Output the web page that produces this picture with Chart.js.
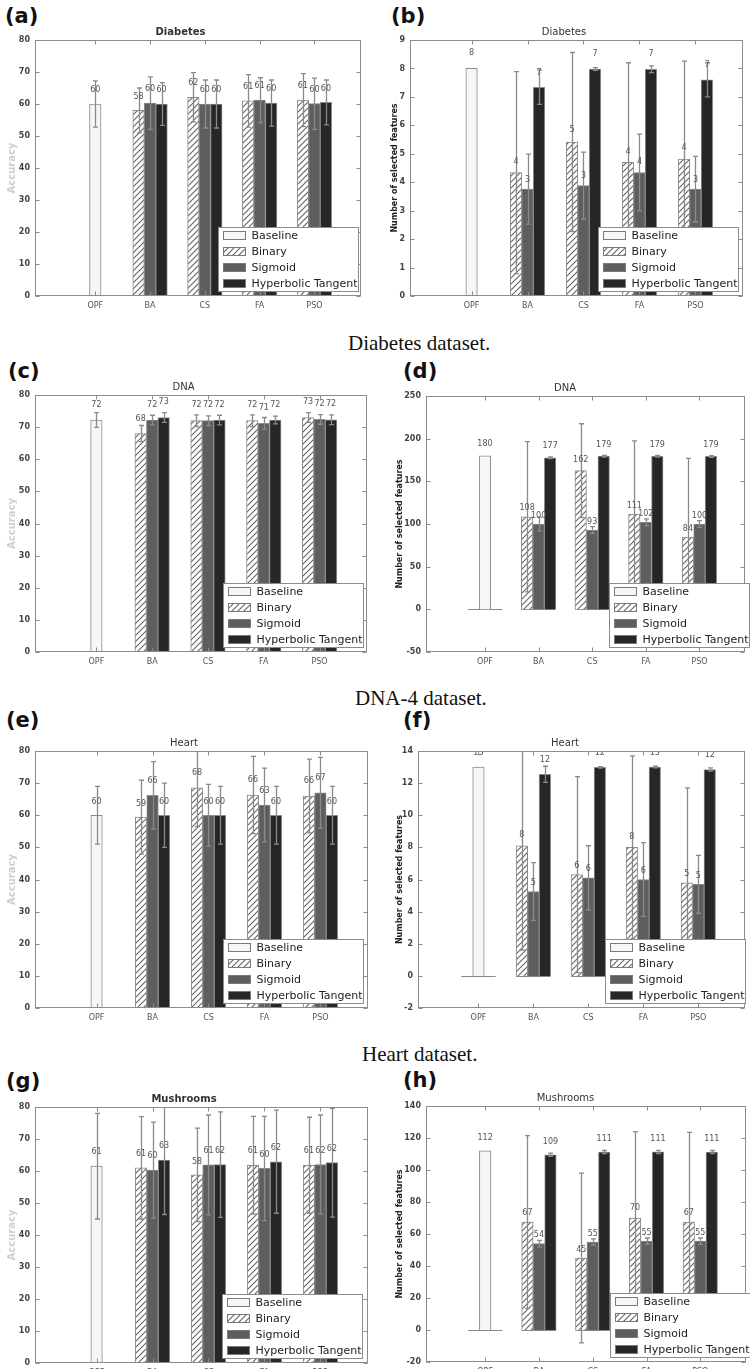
<!DOCTYPE html>
<html>
<head>
<meta charset="utf-8">
<script src="https://cdn.jsdelivr.net/npm/chart.js@4.4.1/dist/chart.umd.min.js"></script>
<style>
html,body{margin:0;padding:0;background:#fff;}
body{width:750px;height:1369px;overflow:hidden;position:relative;}
.panel{position:absolute;}
.plabel{position:absolute;font-family:"DejaVu Sans",sans-serif;font-weight:bold;font-size:21px;line-height:21px;color:#111;white-space:nowrap;}
.cap{position:absolute;font-family:"Liberation Serif",serif;font-size:21px;line-height:22px;color:#111;white-space:nowrap;}
</style>
</head>
<body>
<div class="plabel" style="left:5px;top:6px;">(a)</div>
<div class="plabel" style="left:391px;top:6px;">(b)</div>
<div class="cap" style="left:348px;top:332px;">Diabetes dataset.</div>
<div class="plabel" style="left:8px;top:361px;">(c)</div>
<div class="plabel" style="left:403px;top:361px;">(d)</div>
<div class="cap" style="left:355px;top:687px;">DNA-4 dataset.</div>
<div class="plabel" style="left:6px;top:710px;">(e)</div>
<div class="plabel" style="left:403px;top:710px;">(f)</div>
<div class="cap" style="left:362px;top:1043px;">Heart dataset.</div>
<div class="plabel" style="left:6px;top:1071px;">(g)</div>
<div class="plabel" style="left:403px;top:1070px;">(h)</div>
<script>
const categories = ['OPF', 'BA', 'CS', 'FA', 'PSO'];
const seriesNames = ['Baseline', 'Binary', 'Sigmoid', 'Hyperbolic Tangent'];
const N = null;

// y tick labels
const accTicks = [0, 10, 20, 30, 40, 50, 60, 70, 80];
const diabFeatTicks = [0, 1, 2, 3, 4, 5, 6, 7, 8, 9];
const dnaFeatTicks = [-50, 0, 50, 100, 150, 200, 250];
const heartFeatTicks = [-2, 0, 2, 4, 6, 8, 10, 12, 14];
const mushFeatTicks = [-20, 0, 20, 40, 60, 80, 100, 120, 140];

// (a) Diabetes - accuracy
const diabAccBaseline = [60.0, N, N, N, N];
const diabAccBinary   = [N, 58.0, 62.1, 61.0, 61.2];
const diabAccSigmoid  = [N, 60.3, 60.0, 61.2, 60.1];
const diabAccTanh     = [N, 60.0, 60.0, 60.3, 60.5];
const diabAccBaselineErr = [7.2, N, N, N, N];
const diabAccBinaryErr   = [N, 7.0, 7.7, 8.2, 8.3];
const diabAccSigmoidErr  = [N, 8.2, 7.5, 7.0, 8.0];
const diabAccTanhErr     = [N, 6.7, 7.5, 7.2, 7.0];

// (b) Diabetes - number of selected features
const diabFeatBaseline = [8.0, N, N, N, N];
const diabFeatBinary   = [N, 4.34, 5.41, 4.70, 4.81];
const diabFeatSigmoid  = [N, 3.76, 3.88, 4.34, 3.76];
const diabFeatTanh     = [N, 7.34, 7.98, 7.97, 7.60];
const diabFeatBaselineErr = [0, N, N, N, N];
const diabFeatBinaryErr   = [N, 3.55, 3.15, 3.5, 3.45];
const diabFeatSigmoidErr  = [N, 1.23, 1.18, 1.35, 1.15];
const diabFeatTanhErr     = [N, 0.6, 0.05, 0.12, 0.6];

// (c) DNA - accuracy
const dnaAccBaseline = [72.2, N, N, N, N];
const dnaAccBinary   = [N, 68.0, 72.0, 72.0, 73.0];
const dnaAccSigmoid  = [N, 72.2, 72.0, 71.2, 72.4];
const dnaAccTanh     = [N, 73.0, 72.2, 72.2, 72.3];
const dnaAccBaselineErr = [2.3, N, N, N, N];
const dnaAccBinaryErr   = [N, 2.5, 1.8, 1.8, 1.5];
const dnaAccSigmoidErr  = [N, 1.5, 1.5, 1.8, 1.5];
const dnaAccTanhErr     = [N, 1.5, 1.5, 1.2, 1.5];

// (d) DNA - number of selected features
const dnaFeatBaseline = [180, N, N, N, N];
const dnaFeatBinary   = [N, 108.5, 162.5, 111.5, 84.8];
const dnaFeatSigmoid  = [N, 100, 93, 102, 100];
const dnaFeatTanh     = [N, 177.5, 179.5, 179.3, 179.2];
const dnaFeatBaselineErr = [0, N, N, N, N];
const dnaFeatBinaryErr   = [N, 88, 55, 86, 92];
const dnaFeatSigmoidErr  = [N, 8, 4, 4, 4];
const dnaFeatTanhErr     = [N, 1, 1, 1, 1];

// (e) Heart - accuracy
const heartAccBaseline = [60.0, N, N, N, N];
const heartAccBinary   = [N, 59.4, 68.5, 66.3, 66.0];
const heartAccSigmoid  = [N, 66.2, 60.0, 63.2, 67.0];
const heartAccTanh     = [N, 60.0, 60.0, 60.0, 60.0];
const heartAccBaselineErr = [9.0, N, N, N, N];
const heartAccBinaryErr   = [N, 11.5, 12, 12, 11.5];
const heartAccSigmoidErr  = [N, 10.5, 9.6, 11.5, 11];
const heartAccTanhErr     = [N, 10, 9, 9, 9];

// (f) Heart - number of selected features
const heartFeatBaseline = [13.0, N, N, N, N];
const heartFeatBinary   = [N, 8.1, 6.3, 8.0, 5.8];
const heartFeatSigmoid  = [N, 5.25, 6.1, 6.0, 5.7];
const heartFeatTanh     = [N, 12.55, 12.98, 13.0, 12.85];
const heartFeatBaselineErr = [0, N, N, N, N];
const heartFeatBinaryErr   = [N, 6.5, 6.1, 5.7, 5.9];
const heartFeatSigmoidErr  = [N, 1.8, 2.0, 2.3, 1.8];
const heartFeatTanhErr     = [N, 0.5, 0.05, 0.05, 0.1];

// (g) Mushrooms - accuracy
const mushAccBaseline = [61.5, N, N, N, N];
const mushAccBinary   = [N, 61.0, 58.8, 61.8, 61.8];
const mushAccSigmoid  = [N, 60.3, 61.9, 60.8, 62.0];
const mushAccTanh     = [N, 63.4, 62.0, 62.9, 62.6];
const mushAccBaselineErr = [16.5, N, N, N, N];
const mushAccBinaryErr   = [N, 16, 14.6, 15.3, 15];
const mushAccSigmoidErr  = [N, 15, 15.6, 16.3, 15.5];
const mushAccTanhErr     = [N, 17, 16.5, 16.1, 17];

// (h) Mushrooms - number of selected features
const mushFeatBaseline = [112.0, N, N, N, N];
const mushFeatBinary   = [N, 67.5, 45.0, 70.0, 67.5];
const mushFeatSigmoid  = [N, 54.0, 55.0, 55.5, 55.5];
const mushFeatTanh     = [N, 109.5, 111.2, 111.3, 111.2];
const mushFeatBaselineErr = [0, N, N, N, N];
const mushFeatBinaryErr   = [N, 54, 53, 54, 56];
const mushFeatSigmoidErr  = [N, 2, 2, 2, 2];
const mushFeatTanhErr     = [N, 1, 1, 1, 1];

const FONT = 'DejaVu Sans';
const FEAT_TITLE = 'Number of selected features';

function hatchPattern() {
  const c = document.createElement('canvas');
  c.width = 6; c.height = 6;
  const g = c.getContext('2d');
  g.fillStyle = '#ffffff'; g.fillRect(0, 0, 6, 6);
  g.strokeStyle = '#6a6a6a'; g.lineWidth = 1.2;
  g.beginPath();
  g.moveTo(-1, 7); g.lineTo(7, -1);
  g.moveTo(-4, 4); g.lineTo(4, -4);
  g.moveTo(2, 10); g.lineTo(10, 2);
  g.stroke();
  return g.createPattern(c, 'repeat');
}
const HATCH = hatchPattern();
const FILLS = ['#f6f6f6', HATCH, '#5e5e5e', '#262626'];

const decorPlugin = {
  id: 'decor',
  beforeDatasetsDraw(chart) {
    const {ctx, chartArea: a, scales: {x, y}} = chart;
    const p = chart.options.plugins.decor;
    const y0 = y.getPixelForValue(0);
    if (y0 < a.bottom - 1) {
      ctx.save();
      ctx.strokeStyle = '#8a8a8a'; ctx.lineWidth = 1;
      categories.forEach((c, i) => {
        const cx = x.getPixelForValue(i);
        ctx.beginPath();
        ctx.moveTo(cx - 1.5 * p.bw, Math.round(y0) + 0.5);
        ctx.lineTo(cx + 1.5 * p.bw, Math.round(y0) + 0.5);
        ctx.stroke();
      });
      ctx.restore();
    }
  },
  afterDatasetsDraw(chart) {
    const {ctx, chartArea: a, scales: {x, y}} = chart;
    const p = chart.options.plugins.decor;
    ctx.save();
    ctx.beginPath(); ctx.rect(a.left, a.top, a.right - a.left, a.bottom - a.top); ctx.clip();
    // error bars
    chart.data.datasets.forEach((ds, di) => {
      const meta = chart.getDatasetMeta(di);
      meta.data.forEach((el, i) => {
        const v = ds.data[i], e = ds.errors[i];
        if (v == null || e == null || e <= 0) return;
        const cx = Math.round(el.x) + 0.5;
        const yt = y.getPixelForValue(v + e), yb = y.getPixelForValue(v - e);
        ctx.strokeStyle = '#8a8a8a'; ctx.lineWidth = 1.3;
        ctx.beginPath();
        ctx.moveTo(cx, yt); ctx.lineTo(cx, yb);
        ctx.moveTo(cx - 2.5, yt); ctx.lineTo(cx + 2.5, yt);
        ctx.moveTo(cx - 2.5, yb); ctx.lineTo(cx + 2.5, yb);
        ctx.stroke();
      });
    });
    // value labels
    ctx.font = '8px "DejaVu Sans"';
    ctx.fillStyle = '#555';
    ctx.textAlign = 'center'; ctx.textBaseline = 'bottom';
    chart.data.datasets.forEach((ds, di) => {
      const meta = chart.getDatasetMeta(di);
      meta.data.forEach((el, i) => {
        const v = ds.data[i];
        if (v == null) return;
        ctx.fillText(String(Math.floor(v)), el.x, y.getPixelForValue(v * 1.05));
      });
    });
    ctx.restore();

    // frame and inward ticks
    ctx.save();
    ctx.strokeStyle = '#8c8c8c'; ctx.lineWidth = 1;
    const L = Math.round(a.left) + 0.5, R = Math.round(a.right) - 0.5;
    const T = Math.round(a.top) + 0.5, B = Math.round(a.bottom) - 0.5;
    ctx.strokeRect(L, T, R - L, B - T);
    ctx.beginPath();
    y.ticks.forEach(t => {
      const py = Math.round(y.getPixelForValue(t.value)) + 0.5;
      ctx.moveTo(L, py); ctx.lineTo(L + 4, py);
      ctx.moveTo(R, py); ctx.lineTo(R - 4, py);
    });
    x.ticks.forEach(t => {
      const px = Math.round(x.getPixelForValue(t.value)) + 0.5;
      ctx.moveTo(px, B); ctx.lineTo(px, B - 4);
      ctx.moveTo(px, T); ctx.lineTo(px, T + 4);
    });
    ctx.stroke();
    ctx.restore();

    // legend box (lower right, over bars)
    ctx.save();
    const lw = 140, lh = 64;
    const lx = Math.round(a.right + p.legendRight - lw) + 0.5;
    const ly = Math.round(a.bottom - 5 - lh) + 0.5;
    ctx.fillStyle = '#fff';
    ctx.fillRect(lx, ly, lw, lh);
    ctx.strokeStyle = '#8c8c8c'; ctx.lineWidth = 1;
    ctx.strokeRect(lx, ly, lw, lh);
    ctx.font = '11px "DejaVu Sans"';
    ctx.textAlign = 'left'; ctx.textBaseline = 'middle';
    chart.data.datasets.forEach((ds, di) => {
      const ry = ly + 8 + di * 16;
      ctx.fillStyle = ds.backgroundColor;
      ctx.fillRect(lx + 5, ry - 4, 22, 8);
      ctx.strokeStyle = '#7a7a7a';
      ctx.strokeRect(lx + 5, ry - 4, 22, 8);
      ctx.fillStyle = '#222';
      ctx.fillText(ds.label, lx + 33, ry + 0.5);
    });
    ctx.restore();
  }
};

function makeChart(p) {
  const wrap = document.createElement('div');
  wrap.className = 'panel';
  wrap.style.left = p.left + 'px';
  wrap.style.top = p.top + 'px';
  const cv = document.createElement('canvas');
  cv.width = p.width; cv.height = p.height;
  cv.style.width = p.width + 'px'; cv.style.height = p.height + 'px';
  wrap.appendChild(cv);
  document.body.appendChild(wrap);
  const yt = p.yticks;
  new Chart(cv, {
    type: 'bar',
    data: {
      labels: categories.map((c, i) => i),
      datasets: seriesNames.map((name, k) => ({
        label: name,
        data: p.series[k],
        errors: p.errors[k],
        backgroundColor: FILLS[k],
        borderColor: '#8a8a8a',
        borderWidth: 1,
        skipNull: true,
        barThickness: p.bw
      }))
    },
    options: {
      responsive: false,
      animation: false,
      devicePixelRatio: 1,
      events: [],
      layout: {padding: {top: 0, right: p.padRight, bottom: 0, left: 0}},
      plugins: {
        legend: {display: false},
        tooltip: {enabled: false},
        title: {
          display: true, text: p.title,
          font: {family: FONT, size: 10, weight: p.bold ? 'bold' : 'normal', lineHeight: 1.2},
          color: '#333', padding: {top: 0, bottom: 2}
        },
        decor: {bw: p.bw, legendRight: p.legendRight}
      },
      scales: {
        x: {
          type: 'linear', min: -1.1, max: 4.85, offset: false,
          grid: {display: false, drawTicks: false},
          border: {display: false},
          afterBuildTicks: s => { s.ticks = categories.map((c, i) => ({value: i})); },
          ticks: {
            callback: v => categories[v] ?? '',
            font: {family: FONT, size: 8}, color: '#555', padding: 5,
            autoSkip: false, maxRotation: 0
          },
          afterFit: s => { s.height = 20; }
        },
        y: {
          min: yt[0], max: yt[yt.length - 1],
          grid: {display: false, drawTicks: false},
          border: {display: false},
          afterBuildTicks: s => { s.ticks = yt.map(v => ({value: v})); },
          ticks: {font: {family: FONT, size: 8, weight: 'bold'}, color: '#444', padding: 5},
          title: {
            display: true, text: p.ytitle,
            font: {family: FONT, size: p.ytSize, weight: 'bold', lineHeight: 1.2},
            color: p.ytColor, padding: {top: p.ytPad, bottom: 0}
          },
          afterFit: s => { s.width = p.yw; }
        }
      }
    },
    plugins: [decorPlugin]
  });
}

const accCommon = {ytitle: 'Accuracy', ytSize: 10, ytColor: '#cfcfcf', ytPad: 6, bw: 11.5, yw: 35};
const featCommon = {ytitle: FEAT_TITLE, ytSize: 8, ytColor: '#222', bw: 11.5};

const panels = [
  Object.assign({}, accCommon, {left: 0, top: 26, width: 365, height: 290, padRight: 4, title: 'Diabetes', bold: true,
    yticks: accTicks, legendRight: -3,
    series: [diabAccBaseline, diabAccBinary, diabAccSigmoid, diabAccTanh],
    errors: [diabAccBaselineErr, diabAccBinaryErr, diabAccSigmoidErr, diabAccTanhErr]}),
  Object.assign({}, featCommon, {left: 385, top: 26, width: 365, height: 290, yw: 25, ytPad: 5, padRight: 7, title: 'Diabetes', bold: false,
    yticks: diabFeatTicks, legendRight: -5,
    series: [diabFeatBaseline, diabFeatBinary, diabFeatSigmoid, diabFeatTanh],
    errors: [diabFeatBaselineErr, diabFeatBinaryErr, diabFeatSigmoidErr, diabFeatTanhErr]}),
  Object.assign({}, accCommon, {left: 0, top: 381, width: 370, height: 291, padRight: 3, title: 'DNA', bold: false,
    yticks: accTicks, legendRight: -4,
    series: [dnaAccBaseline, dnaAccBinary, dnaAccSigmoid, dnaAccTanh],
    errors: [dnaAccBaselineErr, dnaAccBinaryErr, dnaAccSigmoidErr, dnaAccTanhErr]}),
  Object.assign({}, featCommon, {left: 385, top: 382, width: 365, height: 290, yw: 41, ytPad: 10, padRight: 5, title: 'DNA', bold: false,
    yticks: dnaFeatTicks, legendRight: 4,
    series: [dnaFeatBaseline, dnaFeatBinary, dnaFeatSigmoid, dnaFeatTanh],
    errors: [dnaFeatBaselineErr, dnaFeatBinaryErr, dnaFeatSigmoidErr, dnaFeatTanhErr]}),
  Object.assign({}, accCommon, {left: 0, top: 737, width: 371, height: 291, padRight: 3, title: 'Heart', bold: false,
    yticks: accTicks, legendRight: -5,
    series: [heartAccBaseline, heartAccBinary, heartAccSigmoid, heartAccTanh],
    errors: [heartAccBaselineErr, heartAccBinaryErr, heartAccSigmoidErr, heartAccTanhErr]}),
  Object.assign({}, featCommon, {left: 385, top: 737, width: 365, height: 291, yw: 33, ytPad: 10, padRight: 5, title: 'Heart', bold: false,
    yticks: heartFeatTicks, legendRight: 0,
    series: [heartFeatBaseline, heartFeatBinary, heartFeatSigmoid, heartFeatTanh],
    errors: [heartFeatBaselineErr, heartFeatBinaryErr, heartFeatSigmoidErr, heartFeatTanhErr]}),
  Object.assign({}, accCommon, {left: 0, top: 1093, width: 371, height: 290, padRight: 3, title: 'Mushrooms', bold: true,
    yticks: accTicks, legendRight: -6,
    series: [mushAccBaseline, mushAccBinary, mushAccSigmoid, mushAccTanh],
    errors: [mushAccBaselineErr, mushAccBinaryErr, mushAccSigmoidErr, mushAccTanhErr]}),
  Object.assign({}, featCommon, {left: 385, top: 1092, width: 365, height: 290, yw: 41, ytPad: 10, padRight: 4, title: 'Mushrooms', bold: false,
    yticks: mushFeatTicks, legendRight: 4,
    series: [mushFeatBaseline, mushFeatBinary, mushFeatSigmoid, mushFeatTanh],
    errors: [mushFeatBaselineErr, mushFeatBinaryErr, mushFeatSigmoidErr, mushFeatTanhErr]})
];

panels.forEach(makeChart);
</script>
</body>
</html>
